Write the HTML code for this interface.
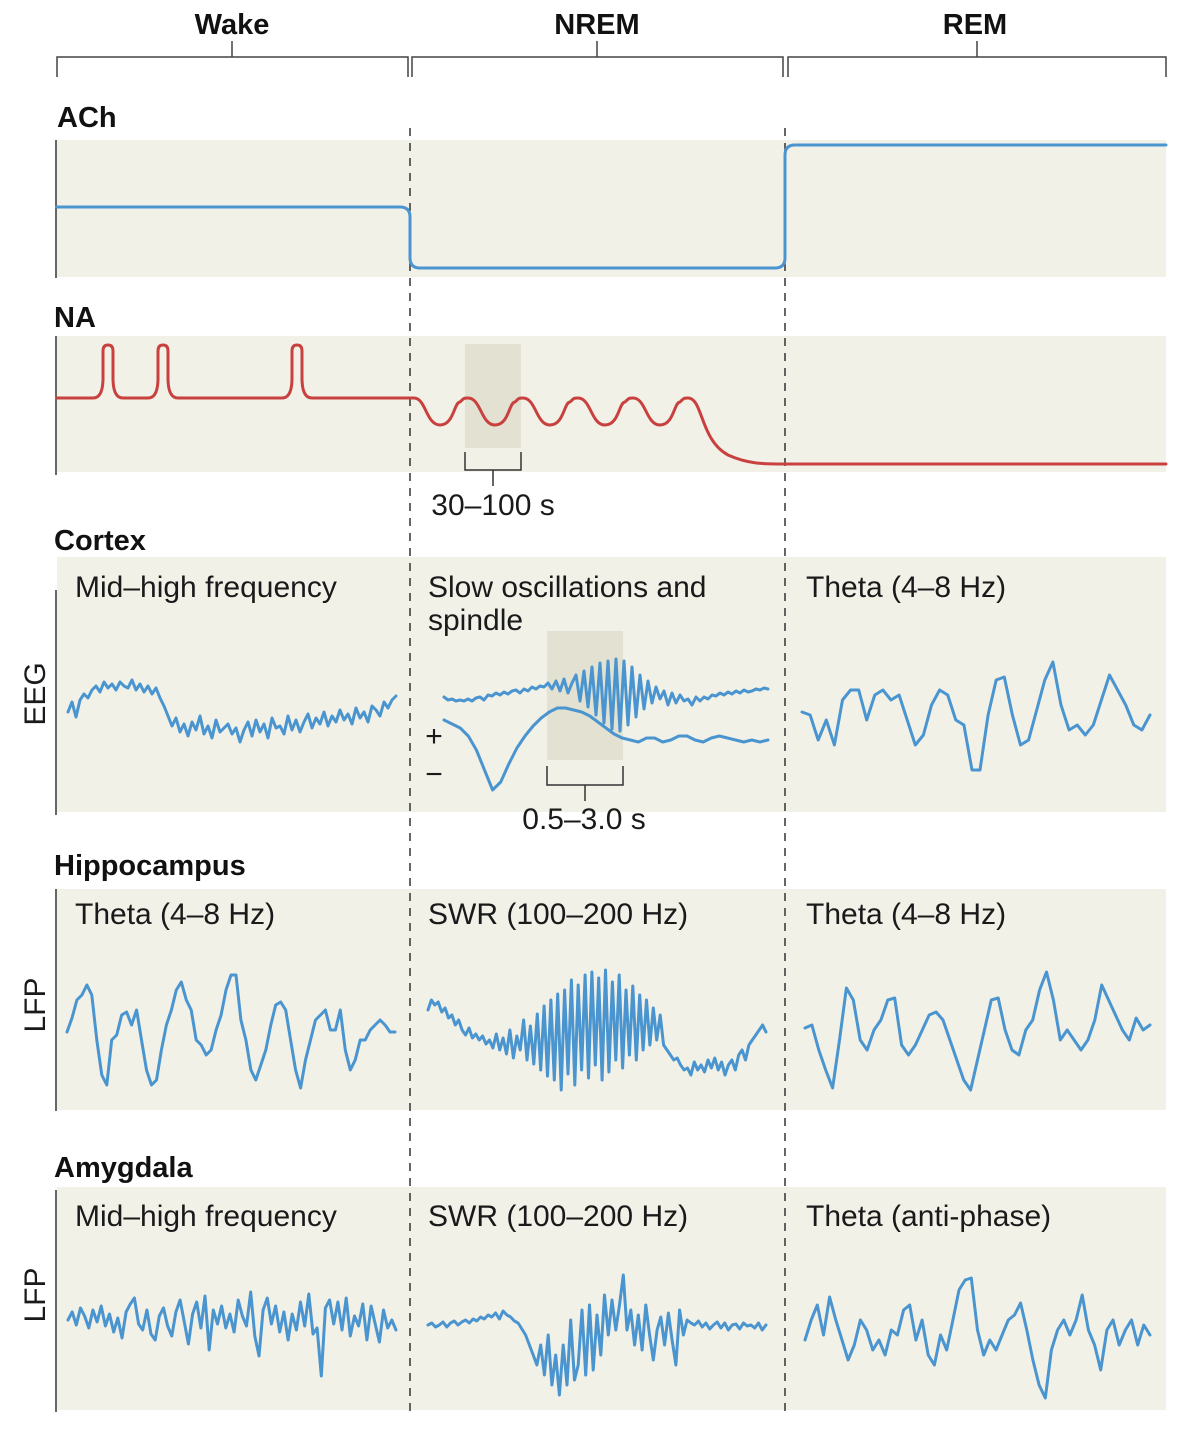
<!DOCTYPE html>
<html><head><meta charset="utf-8">
<style>
html,body{margin:0;padding:0;background:#fff;}
svg{display:block;font-family:"Liberation Sans",sans-serif;}
.b{font-weight:bold;font-size:29px;fill:#111;}
.t{font-size:30px;fill:#1a1a1a;}
</style></head>
<body>
<svg id="fig" width="1200" height="1437" viewBox="0 0 1200 1437">
<g fill="#f2f1e8">
<rect x="57" y="140" width="1109" height="137"/>
<rect x="57" y="336" width="1109" height="136"/>
<rect x="57" y="557" width="1109" height="255"/>
<rect x="57" y="889" width="1109" height="221"/>
<rect x="57" y="1187" width="1109" height="223"/>
</g>
<rect x="465" y="344" width="56" height="104" fill="#e3e1d1"/>
<rect x="547" y="631" width="76" height="129" fill="#e3e1d1"/>
<g stroke="#333" stroke-width="1.5">
<line x1="56" y1="140" x2="56" y2="278"/><line x1="56" y1="336" x2="56" y2="475"/>
<line x1="56" y1="590" x2="56" y2="815"/><line x1="56" y1="889" x2="56" y2="1111"/>
<line x1="56" y1="1190" x2="56" y2="1412"/>
</g>
<g stroke="#333" stroke-width="1.5" stroke-dasharray="8,7">
<line x1="410" y1="128" x2="410" y2="1415"/><line x1="785" y1="128" x2="785" y2="1415"/>
</g>
<g stroke="#444" stroke-width="1.5" fill="none">
<path d="M57,77 V57 H408 V77 M232,57 V41"/>
<path d="M412,77 V57 H783 V77 M597,57 V41"/>
<path d="M788,77 V57 H1166 V77 M977,57 V41"/>
</g>
<text class="b" x="232" y="34" text-anchor="middle">Wake</text>
<text class="b" x="597" y="34" text-anchor="middle">NREM</text>
<text class="b" x="975" y="34" text-anchor="middle">REM</text>
<text class="b" x="57" y="127">ACh</text>
<text class="b" x="54" y="327">NA</text>
<text class="b" x="54" y="550">Cortex</text>
<text class="b" x="54" y="875">Hippocampus</text>
<text class="b" x="54" y="1177">Amygdala</text>
<text class="t" transform="translate(45,694) rotate(-90)" text-anchor="middle">EEG</text>
<text class="t" transform="translate(45,1005) rotate(-90)" text-anchor="middle">LFP</text>
<text class="t" transform="translate(45,1295) rotate(-90)" text-anchor="middle">LFP</text>
<text class="t" x="75" y="597">Mid–high frequency</text>
<text class="t" x="428" y="597">Slow oscillations and</text>
<text class="t" x="428" y="630">spindle</text>
<text class="t" x="806" y="597">Theta (4–8 Hz)</text>
<text class="t" x="75" y="924">Theta (4–8 Hz)</text>
<text class="t" x="428" y="924">SWR (100–200 Hz)</text>
<text class="t" x="806" y="924">Theta (4–8 Hz)</text>
<text class="t" x="75" y="1226">Mid–high frequency</text>
<text class="t" x="428" y="1226">SWR (100–200 Hz)</text>
<text class="t" x="806" y="1226">Theta (anti-phase)</text>
<g stroke="#333" stroke-width="1.5" fill="none"><path d="M465,452 V470 H521 V452 M493,470 V486"/></g>
<text class="t" x="493" y="515" text-anchor="middle">30–100 s</text>
<g stroke="#333" stroke-width="1.5" fill="none"><path d="M547,766 V785 H623 V766 M585,785 V801"/></g>
<text class="t" x="584" y="829" text-anchor="middle">0.5–3.0 s</text>
<text class="t" x="434" y="746" text-anchor="middle">+</text>
<text class="t" x="434" y="784" text-anchor="middle">−</text>
<g id="traces"></g>
</svg>
<script>
// ---- data ----
var achLevels = [207, 268, 145];        // wake, nrem, rem line level (px-space level)
var naWakeSpikes = [108, 163, 297];
var naNremTroughs = [440, 495, 550, 605, 660];
var eegWake = [0,10,-5,12,18,14,22,26,20,30,24,28,22,30,26,24,32,22,28,20,26,18,24,14,6,-4,-14,-6,-20,-12,-24,-10,-18,-4,-22,-14,-26,-8,-20,-16,-12,-22,-16,-30,-18,-10,-24,-8,-20,-12,-26,-6,-16,-14,-22,-4,-18,-8,-20,-10,-2,-16,-6,-12,0,-14,-4,-10,2,-8,-2,-12,4,-6,0,-10,6,2,-4,10,4,12,16];
var eegSpindle = [-2,-5,-4,-6,-5,-6,-4,-6,-3,-2,-5,0,-1,2,0,3,1,4,5,2,6,4,8,6,9,8,12,6,14,4,16,2,12,20,-6,24,-12,28,-20,32,-28,34,-34,36,-36,34,-30,28,-22,20,-14,14,-8,8,-4,4,-10,2,-8,0,-6,-4,-10,-2,-6,-2,-4,0,-1,2,0,3,1,4,2,5,3,4,6,5,7,6];
var eegSlow = [20,16,12,4,-10,-30,-50,-42,-24,-8,4,14,22,28,32,32,30,28,24,18,12,6,2,0,-2,2,2,-2,0,4,4,0,-2,2,4,2,0,-2,0,-2,0];
var eegRem = [3,0,-25,-5,-30,15,25,25,-5,20,25,15,20,-5,-30,-20,10,25,20,-5,-10,-55,-55,0,35,38,0,-30,-25,5,35,53,10,-15,-10,-20,-10,15,40,25,10,-10,-15,0];
var hipWake = [-2,12,30,35,45,35,-10,-45,-55,-10,-5,15,18,5,20,-10,-40,-55,-50,-20,5,20,40,48,30,20,-10,-15,-25,-20,0,15,40,55,55,10,-10,-40,-50,-35,-20,5,25,28,20,-10,-40,-58,-30,-10,10,15,20,0,0,20,-20,-40,-30,-10,-10,0,5,10,5,-2,-2];
var hipSwr = [20,30,25,28,18,22,12,15,5,10,0,-5,2,-8,-4,-10,-6,-14,-10,-18,-4,-20,-8,-24,0,-28,-6,-20,10,-30,4,-34,16,-40,24,-46,30,-50,36,-60,40,-44,50,-55,45,-40,55,-48,58,-35,52,-50,60,-42,48,-30,55,-38,40,-25,44,-30,35,-20,30,-15,22,-10,15,-15,-20,-25,-30,-28,-35,-40,-38,-45,-32,-40,-35,-42,-30,-38,-28,-40,-32,-45,-35,-30,-40,-25,-20,-30,-15,-10,-5,0,5,-2];
var hipRem = [2,5,-20,-40,-58,-10,42,30,-10,-20,0,10,30,32,-15,-25,-15,0,15,18,10,-10,-30,-50,-60,-30,0,30,32,0,-20,-25,0,10,40,58,30,-10,0,-10,-20,-10,10,45,30,15,0,-10,12,0,5];
var amyWake = [0,8,-5,12,4,-8,10,-2,14,-6,6,-12,2,-18,8,16,22,-4,-10,10,-14,-20,4,12,-6,-16,8,20,-2,-24,6,18,-8,24,-30,10,-4,14,-8,6,-12,20,4,-6,28,-16,-36,10,22,-4,14,-12,8,-20,6,-10,18,-6,26,-14,-8,-56,12,20,-4,18,-10,22,-16,4,-6,16,-20,14,-4,-22,10,-8,0,-10];
var amyNrem = [0,2,-2,0,3,-2,2,4,0,3,5,2,6,4,8,6,10,8,12,6,14,10,8,4,2,-4,-10,-20,-30,-40,-20,-50,-10,-60,-30,-70,-20,-60,5,-55,-40,15,-50,20,-45,10,-30,30,-10,25,-5,20,50,-5,15,-20,10,-25,20,-10,-35,-5,8,-20,12,-15,-40,15,-10,5,2,0,4,-2,2,-4,0,3,-3,2,-5,0,1,-4,2,-1,0,-3,2,-5,0];
var amyRem = [-10,10,25,-5,33,10,-10,-30,-15,10,0,-20,-10,-25,0,-5,20,25,-10,10,-25,-35,-5,-20,10,40,50,52,0,-25,-10,-20,-5,10,15,27,0,-30,-55,-68,-20,0,10,-5,10,35,0,-15,-40,0,10,-15,0,10,-15,5,-5];

// ---- drawing ----
var NS = 'http://www.w3.org/2000/svg';
var g = document.getElementById('traces');
var BLUE = '#4a95cf', RED = '#c8413f';
function xScale(i, n, x0, x1){ return x0 + (x1 - x0) * i / (n - 1); }
function yScale(v, center){ return center - v; }
function addPath(d, color, name){
  var p = document.createElementNS(NS, 'path');
  p.setAttribute('d', d);
  p.setAttribute('fill', 'none');
  p.setAttribute('stroke', color);
  p.setAttribute('stroke-width', '3');
  p.setAttribute('stroke-linejoin', 'round');
  p.setAttribute('stroke-linecap', 'round');
  
  
  g.appendChild(p);
}
function trace(vals, x0, x1, center, name){
  var d = '';
  for (var i = 0; i < vals.length; i++){
    d += (i ? 'L' : 'M') + xScale(i, vals.length, x0, x1).toFixed(1) + ',' + yScale(vals[i], center).toFixed(1);
  }
  addPath(d, BLUE, name);
}
// ACh
(function(){
  var a = achLevels;
  var d = 'M57,' + a[0] + ' H400 Q410,' + a[0] + ' 410,' + (a[0] + 10) + ' V' + (a[1] - 10) +
    ' Q410,' + a[1] + ' 420,' + a[1] + ' H775 Q785,' + a[1] + ' 785,' + (a[1] - 10) +
    ' V' + (a[2] + 10) + ' Q785,' + a[2] + ' 795,' + a[2] + ' H1166';
  addPath(d, BLUE, 'ach-line');
})();
// NA
(function(){
  var base = 398, top = 345, d = 'M57,' + base;
  naWakeSpikes.forEach(function(cx){
    d += ' L' + (cx - 15) + ',' + base + ' Q' + (cx - 5) + ',' + base + ' ' + (cx - 5) + ',' + (base - 20) +
      ' L' + (cx - 5) + ',' + (top + 6) + ' Q' + (cx - 5) + ',' + top + ' ' + cx + ',' + top +
      ' Q' + (cx + 5) + ',' + top + ' ' + (cx + 5) + ',' + (top + 6) + ' L' + (cx + 5) + ',' + (base - 20) +
      ' Q' + (cx + 5) + ',' + base + ' ' + (cx + 15) + ',' + base;
  });
  d += ' L414,' + base;
  var bot = 425;
  naNremTroughs.forEach(function(cx, i){
    d += ' C' + (cx - 14) + ',' + base + ' ' + (cx - 14) + ',' + bot + ' ' + cx + ',' + bot +
      ' C' + (cx + 14) + ',' + bot + ' ' + (cx + 14) + ',' + (base + 4) + ' ' + (cx + 20) + ',' + (base + 4) +
      ' C' + (cx + 24) + ',' + base + ' ' + (cx + 24) + ',' + base + ' ' + (cx + 28) + ',' + base;
  });
  var last = naNremTroughs[naNremTroughs.length - 1] + 28;
  d += ' C' + (last + 15) + ',' + base + ' ' + (last + 12) + ',440 ' + (last + 40) + ',455 C' + (last + 60) + ',464 ' + (last + 75) + ',464 ' + (last + 95) + ',464 L1166,464';
  addPath(d, RED, 'na-line');
})();
trace(eegWake, 68, 396, 712, 'eeg-wake-trace');
trace(eegSpindle, 444, 768, 695, 'eeg-spindle-trace');
trace(eegSlow, 444, 768, 740, 'eeg-slow-wave-trace');
trace(eegRem, 802, 1150, 715, 'eeg-rem-theta-trace');
trace(hipWake, 67, 395, 1030, 'hippo-wake-theta-trace');
trace(hipSwr, 428, 766, 1030, 'hippo-nrem-swr-trace');
trace(hipRem, 805, 1150, 1030, 'hippo-rem-theta-trace');
trace(amyWake, 68, 396, 1320, 'amyg-wake-trace');
trace(amyNrem, 428, 766, 1325, 'amyg-nrem-swr-trace');
trace(amyRem, 805, 1150, 1330, 'amyg-rem-theta-trace');
</script>
</body></html>
